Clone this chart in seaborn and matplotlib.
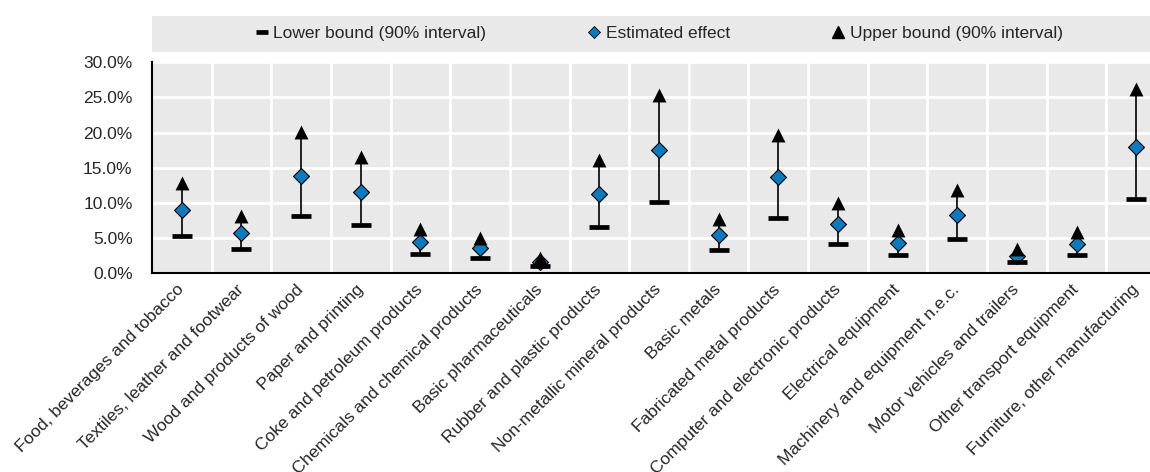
import matplotlib
matplotlib.use("Agg")
import matplotlib.pyplot as plt
from matplotlib.lines import Line2D
from matplotlib.ticker import FixedLocator, FuncFormatter
import seaborn as sns
import pandas as pd

categories = [
    "Food, beverages and tobacco",
    "Textiles, leather and footwear",
    "Wood and products of wood",
    "Paper and printing",
    "Coke and petroleum products",
    "Chemicals and chemical products",
    "Basic pharmaceuticals",
    "Rubber and plastic products",
    "Non-metallic mineral products",
    "Basic metals",
    "Fabricated metal products",
    "Computer and electronic products",
    "Electrical equipment",
    "Machinery and equipment n.e.c.",
    "Motor vehicles and trailers",
    "Other transport equipment",
    "Furniture, other manufacturing",
]
lower_bound = [5.3, 3.4, 8.1, 6.8, 2.7, 2.2, 1.0, 6.6, 10.2, 3.3, 7.9, 4.2, 2.6, 4.9, 1.6, 2.6, 10.5]
estimated = [9.0, 5.8, 13.9, 11.5, 4.4, 3.6, 1.6, 11.3, 17.5, 5.5, 13.7, 7.0, 4.3, 8.3, 2.4, 4.2, 18.0]
upper_bound = [12.8, 8.1, 20.1, 16.5, 6.3, 5.0, 2.2, 16.1, 25.4, 7.7, 19.7, 10.0, 6.1, 11.8, 3.5, 5.9, 26.2]

legend_labels = ["Lower bound (90% interval)", "Estimated effect", "Upper bound (90% interval)"]

BLUE = "#0f79be"
BG = "#e9e9e9"

sns.set_theme(style="white")
plt.rcParams["font.family"] = ["Liberation Sans", "DejaVu Sans"]
FS = 12.5

df = pd.DataFrame({"cat": categories, "lo": lower_bound, "est": estimated, "hi": upper_bound})

W, H = 1150, 472
fig = plt.figure(figsize=(W / 100, H / 100), dpi=100)
ax = fig.add_axes([152 / W, 1 - 273.3 / H, 1 - 152 / W, (273.3 - 62.3) / H])
ax.set_facecolor(BG)

x = list(range(len(categories)))
ax.vlines(x, df["lo"], df["hi"], color="black", lw=1.2, zorder=3)
sns.scatterplot(data=df, x="cat", y="est", marker="D", s=66, color=BLUE,
                edgecolor="black", linewidth=0.8, ax=ax, zorder=4, legend=False)
sns.scatterplot(data=df, x="cat", y="lo", marker="_", s=205, color="black",
                linewidth=3.4, ax=ax, zorder=5, legend=False)
sns.scatterplot(data=df, x="cat", y="hi", marker="^", s=100, color="black",
                edgecolor="black", linewidth=0, ax=ax, zorder=6, legend=False)

ax.set_xlim(-0.5, 16.5 - 16 / 59.65)
ax.set_ylim(0, 30)
ax.set_xlabel("")
ax.set_ylabel("")

ax.yaxis.set_major_locator(FixedLocator([0, 5, 10, 15, 20, 25, 30]))
ax.yaxis.set_major_formatter(FuncFormatter(lambda v, p: f"{v:.1f}%"))
ax.set_xticks(x)
ax.set_xticklabels(categories, rotation=45, ha="right", va="center",
                   rotation_mode="anchor", fontsize=FS)
ax.set_xticks([i + 0.5 for i in range(len(categories) - 1)], minor=True)
ax.tick_params(axis="x", which="major", length=0, pad=10)
ax.tick_params(axis="x", which="minor", direction="in", length=6, width=1.2, color="black")
ax.tick_params(axis="y", direction="in", length=6, width=1.2, color="black",
               labelsize=FS, pad=14)

ax.grid(False)
for v in [5, 10, 15, 20, 25, 30]:
    ax.axhline(v, color="white", lw=2, zorder=1)
for v in [i + 0.5 for i in range(len(categories) - 1)]:
    ax.axvline(v, color="white", lw=2, zorder=1)

for s in ["top", "right"]:
    ax.spines[s].set_visible(False)
for s in ["left", "bottom"]:
    ax.spines[s].set_color("black")
    ax.spines[s].set_linewidth(1.5)

# legend band
lax = fig.add_axes([152 / W, 1 - 51.7 / H, 1 - 152 / W, 36 / H])
lax.set_facecolor(BG)
lax.set_xticks([])
lax.set_yticks([])
for s in lax.spines.values():
    s.set_visible(False)
handles = [
    Line2D([], [], linestyle="none", marker="_", markersize=9, markeredgewidth=3.4, color="black"),
    Line2D([], [], linestyle="none", marker="D", markersize=6, markerfacecolor=BLUE,
           markeredgecolor="black", markeredgewidth=0.6),
    Line2D([], [], linestyle="none", marker="^", markersize=9, color="black"),
]
lax.legend(handles, legend_labels, loc="center", bbox_to_anchor=(0.508, 0.5), ncol=3,
           frameon=False, fontsize=FS, handlelength=0.7, handletextpad=0.3,
           columnspacing=5.9, borderaxespad=0)

fig.savefig("out.png", dpi=100)
